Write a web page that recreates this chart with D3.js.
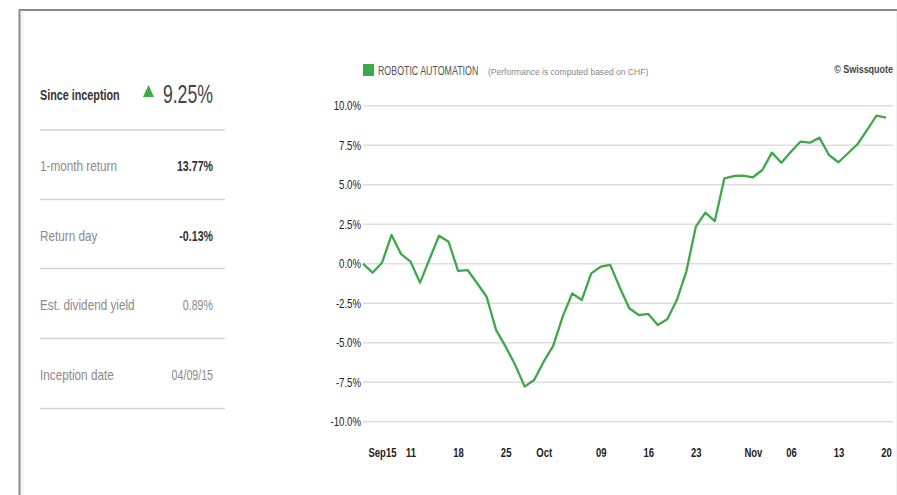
<!DOCTYPE html>
<html>
<head>
<meta charset="utf-8">
<script src="https://cdn.jsdelivr.net/npm/d3@7"></script>
<style>
  html, body { margin: 0; padding: 0; background: #fff; }
  svg { display: block; }
  text { font-family: "Liberation Sans", Arial, sans-serif; }
</style>
</head>
<body>
<svg id="chart" width="897" height="495"></svg>
<script>
// Trading days (Swiss market), performance in % since inception
const dates = [
  "2015-09-04",
  "2015-09-07","2015-09-08","2015-09-09","2015-09-10","2015-09-11",
  "2015-09-14","2015-09-15","2015-09-16","2015-09-17","2015-09-18",
  "2015-09-21","2015-09-22","2015-09-23","2015-09-24","2015-09-25",
  "2015-09-28","2015-09-29","2015-09-30","2015-10-01","2015-10-02",
  "2015-10-05","2015-10-06","2015-10-07","2015-10-08","2015-10-09",
  "2015-10-12","2015-10-13","2015-10-14","2015-10-15","2015-10-16",
  "2015-10-19","2015-10-20","2015-10-21","2015-10-22","2015-10-23",
  "2015-10-26","2015-10-27","2015-10-28","2015-10-29","2015-10-30",
  "2015-11-02","2015-11-03","2015-11-04","2015-11-05","2015-11-06",
  "2015-11-09","2015-11-10","2015-11-11","2015-11-12","2015-11-13",
  "2015-11-16","2015-11-17","2015-11-18","2015-11-19","2015-11-20"
];
const performance = [
  0.00,
  -0.57, 0.06, 1.82, 0.61, 0.13,
  -1.20, 0.30, 1.77, 1.39, -0.46,
  -0.40, -1.24, -2.09, -4.20, -5.25,
  -6.40, -7.78, -7.36, -6.20, -5.20,
  -3.35, -1.88, -2.30, -0.61, -0.19,
  -0.08, -1.50, -2.82, -3.25, -3.18,
  -3.88, -3.52, -2.30, -0.50, 2.34,
  3.23, 2.70, 5.40, 5.55, 5.57,
  5.47, 5.93, 7.03, 6.39, 7.09,
  7.72, 7.66, 7.98, 6.88, 6.42,
  6.99, 7.56, 8.46, 9.37, 9.25
];
const tickDates  = ["2015-09-04","2015-09-11","2015-09-18","2015-09-25","2015-10-01","2015-10-09",
                    "2015-10-16","2015-10-23","2015-11-02","2015-11-06","2015-11-13","2015-11-20"];
const tickLabels = ["Sep15","11","18","25","Oct","09","16","23","Nov","06","13","20"];
const yTicks = [-10, -7.5, -5, -2.5, 0, 2.5, 5, 7.5, 10];

// Key figures panel
const statLabels = ["1-month return", "Return day", "Est. dividend yield", "Inception date"];
const statValues = ["13.77%", "-0.13%", "0.89%", "04/09/15"];
const statBold   = [true, true, false, false];
const sinceInception = 9.25;

const svg = d3.select("#chart");
const green = "#3fa84a";
const pct1 = v => d3.format(".1f")(v).replace("\u2212", "-") + "%";

// narrow the glyphs horizontally around each text's own anchor point
function squeeze(sel, f) {
  sel.each(function () {
    const el = d3.select(this);
    const ax = +el.attr("x") || 0;
    el.attr("transform", `translate(${ax * (1 - f)},0) scale(${f},1)`);
  });
  return sel;
}

// outer frame
svg.append("path")
  .attr("d", "M19.5,495 L19.5,10 L897,10")
  .attr("fill", "none").attr("stroke", "#8a8a8a").attr("stroke-width", 2);
svg.append("line").attr("x1", 22.5).attr("x2", 22.5).attr("y1", 12).attr("y2", 495)
  .attr("stroke", "#efefef").attr("stroke-width", 2);
svg.append("line").attr("x1", 896.5).attr("x2", 896.5).attr("y1", 11).attr("y2", 495)
  .attr("stroke", "#f0f0f0").attr("stroke-width", 1);

// ---- left panel ----
const panel = svg.append("g");
panel.append("text").attr("x", 40).attr("y", 100)
  .attr("font-size", 15).attr("fill", "#333").attr("font-weight", "bold")
  .text("Since inception").call(squeeze, 0.72);
panel.append("path")
  .attr("d", "M148.5,85 L154,97 L143,97 Z").attr("fill", green);
panel.append("text").attr("x", 213).attr("y", 103).attr("text-anchor", "end")
  .attr("font-size", 26).attr("fill", "#444")
  .text(d3.format(".2f")(sinceInception) + "%").call(squeeze, 0.68);

const sepY = [130, 199.5, 268.5, 338.5, 408.5];
panel.selectAll("line.sep").data(sepY).join("line").attr("class", "sep")
  .attr("x1", 40).attr("x2", 225).attr("y1", d => d).attr("y2", d => d)
  .attr("stroke", "#d2d2d2").attr("stroke-width", 1.5);

const rowY = [171, 241, 310, 380];
panel.selectAll("text.lab").data(statLabels).join("text").attr("class", "lab")
  .attr("x", 40).attr("y", (d, i) => rowY[i])
  .attr("font-size", 14).attr("fill", "#8a8a8a").text(d => d)
  .call(squeeze, 0.84);
panel.selectAll("text.val").data(statValues).join("text").attr("class", "val")
  .attr("x", 213).attr("y", (d, i) => rowY[i]).attr("text-anchor", "end")
  .attr("font-size", 14)
  .attr("font-weight", (d, i) => statBold[i] ? "bold" : "normal")
  .attr("fill", (d, i) => statBold[i] ? "#333" : "#8a8a8a")
  .text(d => d)
  .call(squeeze, 0.76);

// ---- chart ----
const x = d3.scalePoint().domain(dates).range([363, 886]);
const y = d3.scaleLinear().domain([-10, 10]).range([421.7, 105.7]);

const grid = svg.append("g");
grid.selectAll("line").data(yTicks).join("line")
  .attr("x1", 363).attr("x2", 893)
  .attr("y1", d => y(d)).attr("y2", d => y(d))
  .attr("stroke", "#dedede").attr("stroke-width", 1.5);

const yAxis = svg.append("g")
  .attr("transform", "translate(361,0)")
  .call(d3.axisLeft(y).tickValues(yTicks).tickSize(0).tickPadding(0).tickFormat(pct1));
yAxis.select(".domain").remove();
yAxis.selectAll("text").attr("font-size", 12.5).attr("fill", "#222")
  .attr("font-family", null).call(squeeze, 0.77);

const xAxis = svg.append("g")
  .attr("transform", "translate(0,448)")
  .call(d3.axisBottom(x).tickValues(tickDates).tickSize(0).tickPadding(0)
    .tickFormat((d, i) => tickLabels[i]));
xAxis.select(".domain").remove();
xAxis.selectAll("text").attr("font-size", 13).attr("font-weight", "bold")
  .attr("fill", "#222").attr("font-family", null)
  .attr("text-anchor", (d, i) => i === 0 ? "start" : "middle")
  .attr("x", (d, i) => i === 0 ? 5 : 0)
  .call(squeeze, 0.73);

const line = d3.line().x((d, i) => x(dates[i])).y(d => y(d));
svg.append("path").datum(performance)
  .attr("d", line).attr("fill", "none")
  .attr("stroke", green).attr("stroke-width", 2.3)
  .attr("stroke-linejoin", "round");

// legend and credit
const legend = svg.append("g");
legend.append("rect").attr("x", 363).attr("y", 64).attr("width", 11).attr("height", 12)
  .attr("fill", green);
legend.append("text").attr("x", 378).attr("y", 75.5).attr("font-size", 13)
  .attr("fill", "#555").text("ROBOTIC AUTOMATION").call(squeeze, 0.68);
legend.append("text").attr("x", 488).attr("y", 75).attr("font-size", 9.5)
  .attr("fill", "#888").text("(Performance is computed based on CHF)").call(squeeze, 0.9);
legend.append("text").attr("x", 893).attr("y", 73).attr("text-anchor", "end")
  .attr("font-size", 11.5).attr("font-weight", "bold").attr("fill", "#444")
  .text("© Swissquote").call(squeeze, 0.78);
</script>
</body>
</html>
